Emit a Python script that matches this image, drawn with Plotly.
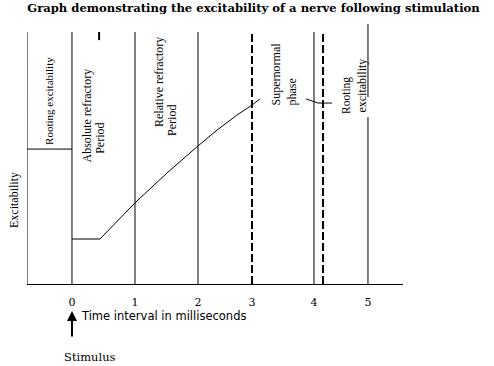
import plotly.graph_objects as go

# ---- data (x in drawn time units, y in arbitrary excitability units) ----
tick_vals = [0, 1, 2, 2.857, 3.841, 4.698]
tick_labels = ["0", "1", "2", "3", "4", "5"]

x_range = [-0.714, 5.254]
y_range = [0, 10]

# vertical phase boundaries: position, top, dashed?
boundary_x = [-0.714, 0, 1, 2, 2.857, 3.841, 3.984]
boundary_top = [9.69, 9.69, 9.69, 9.69, 9.69, 9.69, 9.69]
boundary_dash = [False, False, False, False, True, False, True]

# last boundary (5 ms) drawn in two pieces around the label
last_x = 4.698
last_segments = [(7.19, 10.0), (0.0, 6.42)]

# resting level and refractory curve
rest_x = [-0.714, 0]
rest_y = [5.19, 5.19]

curve_x = [0, 0.444, 1.0, 1.508, 2.0, 2.302, 2.619, 2.857, 2.984]
curve_y = [1.73, 1.73, 3.12, 4.27, 5.31, 5.92, 6.50, 6.88, 7.12]

curve2_x = [3.714, 3.905, 4.127]
curve2_y = [7.12, 6.96, 6.96]

# stray mark near top
mark_x = [0.43, 0.43]
mark_y = [9.38, 9.69]

# phase labels: text, x, y, font size
label_text = ["Rooting excitability", "Absolute refractory", "Period",
              "Relative refractory", "Period", "Supernormal", "phase",
              "Rooting", "excitability"]
label_x = [-0.365, 0.238, 0.444, 1.381, 1.587, 3.238, 3.492, 4.365, 4.603]
label_y = [7.04, 6.48, 5.62, 7.77, 6.31, 8.10, 7.40, 7.27, 7.63]
label_size = [11, 12, 12, 12, 12, 12, 12, 11.5, 12]

fig = go.Figure()

fig.add_trace(go.Scatter(x=rest_x, y=rest_y, mode="lines",
                         line=dict(color="black", width=1), showlegend=False))
fig.add_trace(go.Scatter(x=curve_x, y=curve_y, mode="lines",
                         line=dict(color="black", width=1), showlegend=False))
fig.add_trace(go.Scatter(x=curve2_x, y=curve2_y, mode="lines",
                         line=dict(color="black", width=1), showlegend=False))
fig.add_trace(go.Scatter(x=mark_x, y=mark_y, mode="lines",
                         line=dict(color="black", width=2), showlegend=False))

for bx, top, dashed in zip(boundary_x, boundary_top, boundary_dash):
    fig.add_shape(type="line", x0=bx, x1=bx, y0=0, y1=top, xref="x", yref="y",
                  line=dict(color="black", width=2 if dashed else 1,
                            dash="8px,3px" if dashed else "solid"))
for y0, y1 in last_segments:
    fig.add_shape(type="line", x0=last_x, x1=last_x, y0=y0, y1=y1,
                  xref="x", yref="y", line=dict(color="black", width=1))

serif = "Liberation Serif"
for t, lx, ly, fs in zip(label_text, label_x, label_y, label_size):
    fig.add_annotation(x=lx, y=ly, xref="x", yref="y", text=t, showarrow=False,
                       textangle=-90, font=dict(family=serif, size=fs, color="black"),
                       xanchor="center", yanchor="middle")

# y axis label
fig.add_annotation(x=-0.0346, y=0.323, xref="paper", yref="paper", text="Excitability",
                   showarrow=False, textangle=-90, xanchor="center", yanchor="middle",
                   font=dict(family=serif, size=12, color="black"))

# stimulus arrow
fig.add_annotation(x=0, y=-0.104, xref="x", yref="paper", text="", showarrow=True,
                   ax=0, ay=27, arrowhead=2, arrowsize=1, arrowwidth=2,
                   arrowcolor="black")
fig.add_annotation(x=0.111, y=-0.123, xref="x", yref="paper",
                   text="Time interval in milliseconds", showarrow=False,
                   xanchor="left", yanchor="middle",
                   font=dict(family="DejaVu Sans", size=11.5, color="black"))
fig.add_annotation(x=0.286, y=-0.281, xref="x", yref="paper", text="Stimulus",
                   showarrow=False, xanchor="center", yanchor="middle",
                   font=dict(family="DejaVu Serif", size=11.5, color="black"))

fig.update_layout(
    width=494, height=366,
    margin=dict(l=27, r=91, t=24, b=82),
    paper_bgcolor="white", plot_bgcolor="white",
    showlegend=False,
    title=dict(text="<b>Graph demonstrating the excitability of a nerve following stimulation</b>",
               x=253.5 / 494, xanchor="center", y=1 - 8 / 366, yanchor="middle",
               font=dict(family="DejaVu Serif", size=11.6, color="black")),
    xaxis=dict(range=x_range, tickvals=tick_vals, ticktext=tick_labels,
               showgrid=False, zeroline=False, showline=True, linecolor="black",
               linewidth=1, ticks="", ticklabelstandoff=8,
               tickfont=dict(family="DejaVu Serif", size=11, color="black")),
    yaxis=dict(range=y_range, showgrid=False, zeroline=False, showline=False,
               showticklabels=False, ticks=""),
)

fig.write_html("out.html", config={"displayModeBar": False},
               post_script="document.body.style.margin='0';")
